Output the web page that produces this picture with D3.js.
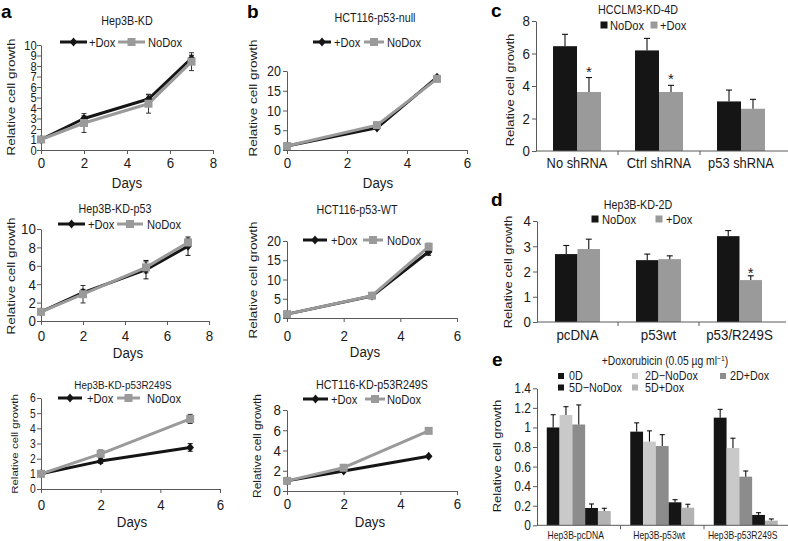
<!DOCTYPE html>
<html><head><meta charset="utf-8">
<script src="https://cdn.jsdelivr.net/npm/d3@7"></script>
<style>
body{margin:0;background:#fff;}
svg{display:block;font-family:"Liberation Sans",Arial,Helvetica,sans-serif;}
</style></head><body>
<script>
// ===================== DATA =====================
// Panel a : Hep3B lines
const aTopDays = [0, 2, 5, 7];
const aTopDox = [1.0, 3.0, 4.86, 8.72];
const aTopDoxErr = [0.1, 0.25, 0.4, 0.3];
const aTopNoDox = [1.0, 2.57, 4.41, 8.41];
const aTopNoDoxErr = [0.1, 0.9, 0.9, 0.85];
const aTopYTicks = [0, 1, 2, 3, 4, 5, 6, 7, 8, 9, 10];
const aTopXTicks = [0, 2, 4, 6, 8];

const aMidDays = [0, 2, 5, 7];
const aMidDox = [1.0, 3.09, 5.58, 8.13];
const aMidDoxErr = [0.1, 0.35, 1.0, 1.0];
const aMidNoDox = [1.0, 2.91, 5.83, 8.53];
const aMidNoDoxErr = [0.1, 0.95, 0.6, 0.4];
const aMidYTicks = [0, 2, 4, 6, 8, 10];
const aMidXTicks = [0, 2, 4, 6, 8];

const aBotDays = [0, 2, 5];
const aBotDox = [1.0, 1.84, 2.74];
const aBotDoxErr = [0.05, 0.15, 0.25];
const aBotNoDox = [1.0, 2.32, 4.62];
const aBotNoDoxErr = [0.05, 0.25, 0.3];
const aBotYTicks = [0, 1, 2, 3, 4, 5, 6];
const aBotXTicks = [0, 2, 4, 6];

// Panel b : HCT116 lines
const bTopDays = [0, 3, 5];
const bTopDox = [1.0, 5.6, 18.4];
const bTopDoxErr = [0.1, 0.3, 0.5];
const bTopNoDox = [1.0, 6.3, 18.0];
const bTopNoDoxErr = [0.1, 0.3, 0.5];
const bTopYTicks = [0, 5, 10, 15, 20];
const bTopXTicks = [0, 2, 4, 6];

const bMidDays = [0, 3, 5];
const bMidDox = [1.0, 5.7, 17.2];
const bMidDoxErr = [0.1, 0.2, 0.9];
const bMidNoDox = [1.0, 5.8, 18.5];
const bMidNoDoxErr = [0.1, 0.2, 0.9];
const bMidYTicks = [0, 5, 10, 15, 20];
const bMidXTicks = [0, 2, 4, 6];

const bBotDays = [0, 2, 5];
const bBotDox = [1.0, 1.98, 3.43];
const bBotDoxErr = [0.05, 0.1, 0.1];
const bBotNoDox = [1.0, 2.3, 5.94];
const bBotNoDoxErr = [0.05, 0.1, 0.1];
const bBotYTicks = [0, 2, 4, 6, 8];
const bBotXTicks = [0, 2, 4, 6];

// Panel c : HCCLM3-KD-4D bars
const cCats = ["No shRNA", "Ctrl shRNA", "p53 shRNA"];
const cNoDox = [6.45, 6.19, 3.05];
const cNoDoxErr = [0.73, 0.74, 0.70];
const cDox = [3.63, 3.63, 2.60];
const cDoxErr = [0.89, 0.41, 0.58];
const cSig = [true, true, false];
const cYTicks = [0, 2, 4, 6, 8];

// Panel d : Hep3B-KD-2D bars
const dCats = ["pcDNA", "p53wt", "p53/R249S"];
const dNoDox = [2.69, 2.45, 3.40];
const dNoDoxErr = [0.34, 0.24, 0.22];
const dDox = [2.89, 2.49, 1.66];
const dDoxErr = [0.39, 0.13, 0.17];
const dSig = [false, false, true];
const dYTicks = [0, 1, 2, 3, 4];

// Panel e : Doxorubicin bars
const eCats = ["Hep3B-pcDNA", "Hep3B-p53wt", "Hep3B-p53R249S"];
const eSeriesNames = ["0D", "2D\u2212NoDox", "2D+Dox", "5D\u2212NoDox", "5D+Dox"];
const e0D = [1.0, 0.957, 1.10];
const e0DErr = [0.13, 0.09, 0.085];
const e2DNoDox = [1.127, 0.855, 0.79];
const e2DNoDoxErr = [0.085, 0.11, 0.10];
const e2DDox = [1.03, 0.81, 0.497];
const e2DDoxErr = [0.20, 0.116, 0.058];
const e5DNoDox = [0.177, 0.235, 0.106];
const e5DNoDoxErr = [0.041, 0.027, 0.023];
const e5DDox = [0.146, 0.18, 0.048];
const e5DDoxErr = [0.028, 0.035, 0.017];
const eYTicks = [0, 0.2, 0.4, 0.6, 0.8, 1.0, 1.2, 1.4];

// ===================== STYLE =====================
const SX = 0.86;
const TXT = "#1a1a1a", AX = "#5a5a5a", BLK = "#151515", GRY = "#9a9a9a";
const FONT = '"Liberation Sans", Arial, Helvetica, sans-serif';
const fmt = d => String(+(+d).toFixed(1));

const svg = d3.select("body").append("svg").attr("width", 788).attr("height", 541);
svg.append("rect").attr("width", 788).attr("height", 541).attr("fill", "#fff");

function txt(g, x, y, s, o = {}) {
  const t = g.append("text")
    .attr("transform", `translate(${x},${y}) scale(${o.sx ?? SX},1)`)
    .attr("font-size", o.size || 13)
    .attr("text-anchor", o.anchor || "start")
    .attr("dy", o.dy ?? "0.35em")
    .attr("fill", o.fill || TXT)
    .text(s);
  if (o.weight) t.attr("font-weight", o.weight);
  return t;
}
function vtxt(g, x, y, s, size) {
  return g.append("text")
    .attr("transform", `translate(${x},${y}) rotate(-90) scale(1,${SX})`)
    .attr("font-size", size).attr("text-anchor", "middle").attr("dy", "0.35em")
    .attr("fill", TXT).text(s);
}
function styleAxis(sel, size) {
  sel.attr("font-family", FONT).attr("font-size", size);
  sel.selectAll(".domain, .tick line").attr("stroke", AX).attr("stroke-width", 1);
  sel.selectAll(".tick text").attr("fill", TXT).attr("transform", `scale(${SX},1)`);
}
const diamondPath = "M0,-4.5L3.8,0L0,4.5L-3.8,0Z";
function marker(g, shape, cx, cy, color) {
  if (shape === "diamond") {
    g.append("path").attr("d", diamondPath).attr("transform", `translate(${cx},${cy})`).attr("fill", color);
  } else {
    g.append("rect").attr("x", cx - 4).attr("y", cy - 4).attr("width", 8).attr("height", 8).attr("fill", color);
  }
}

// ===================== LINE PANELS =====================
function linePanel(c) {
  const g = svg.append("g");
  const x = d3.scaleLinear().domain([0, c.xMax]).range([c.x0, c.x1]);
  const y = d3.scaleLinear().domain([0, c.yMax]).range([c.yB, c.yT]);
  const ya = g.append("g").attr("transform", `translate(${c.x0},0)`)
    .call(d3.axisLeft(y).tickValues(c.yTicks).tickFormat(fmt).tickSize(4).tickSizeOuter(0).tickPadding(c.yPad));
  styleAxis(ya, c.yFont);
  const xa = g.append("g").attr("transform", `translate(0,${c.yB})`)
    .call(d3.axisBottom(x).tickValues(c.xTicks).tickFormat(fmt).tickSize(4).tickSizeOuter(0).tickPadding(c.xPad));
  styleAxis(xa, c.xFont);

  const series = [
    { vals: c.dox, err: c.doxErr, color: BLK, ecol: "#111", shape: "diamond" },
    { vals: c.noDox, err: c.noDoxErr, color: GRY, ecol: "#333", shape: "square" }
  ];
  const line = d3.line().x(d => x(d[0])).y(d => y(d[1]));
  series.forEach(s => {
    g.append("path").datum(c.days.map((d, i) => [d, s.vals[i]]))
      .attr("d", line).attr("fill", "none").attr("stroke", s.color)
      .attr("stroke-width", 3).attr("stroke-linejoin", "round");
  });
  series.forEach(s => {
    c.days.forEach((d, i) => {
      const e = s.err[i]; if (!e) return;
      const px = x(d), lo = y(s.vals[i] - e), hi = y(s.vals[i] + e);
      const eg = g.append("g").attr("stroke", s.ecol).attr("stroke-width", 1);
      eg.append("line").attr("x1", px).attr("x2", px).attr("y1", lo).attr("y2", hi);
      eg.append("line").attr("x1", px - 2.5).attr("x2", px + 2.5).attr("y1", lo).attr("y2", lo);
      eg.append("line").attr("x1", px - 2.5).attr("x2", px + 2.5).attr("y1", hi).attr("y2", hi);
    });
  });
  series.forEach(s => {
    c.days.forEach((d, i) => marker(g, s.shape, x(d), y(s.vals[i]), s.color));
  });

  txt(g, c.titleX, c.titleY, c.title, { size: c.titleSize || 12.5, anchor: "middle" });
  const L = c.leg;
  g.append("line").attr("x1", L.bx0).attr("x2", L.bx1).attr("y1", L.y).attr("y2", L.y).attr("stroke", BLK).attr("stroke-width", 3);
  marker(g, "diamond", (L.bx0 + L.bx1) / 2, L.y, BLK);
  txt(g, L.btx, L.y, "+Dox", { size: 13 });
  g.append("line").attr("x1", L.gx0).attr("x2", L.gx1).attr("y1", L.y).attr("y2", L.y).attr("stroke", GRY).attr("stroke-width", 3);
  marker(g, "square", (L.gx0 + L.gx1) / 2, L.y, GRY);
  txt(g, L.gtx, L.y, "NoDox", { size: 13 });
  txt(g, c.daysX, c.daysY, "Days", { size: 15.5, anchor: "middle" });
  vtxt(g, c.ytX, c.ytY, "Relative cell growth", c.ytSize);
}

linePanel({
  x0: 41, x1: 213, yB: 150, yT: 45, xMax: 8, yMax: 10,
  yTicks: aTopYTicks, xTicks: aTopXTicks, yFont: 13, xFont: 15.5, yPad: 1, xPad: 3.5,
  days: aTopDays, dox: aTopDox, doxErr: aTopDoxErr, noDox: aTopNoDox, noDoxErr: aTopNoDoxErr,
  title: "Hep3B-KD", titleX: 127, titleY: 21,
  leg: { y: 42, bx0: 60, bx1: 87, btx: 89, gx0: 118, gx1: 145, gtx: 148 },
  daysX: 127, daysY: 183, ytX: 11, ytY: 97, ytSize: 13.5
});
linePanel({
  x0: 41, x1: 209, yB: 321, yT: 229, xMax: 8, yMax: 10,
  yTicks: aMidYTicks, xTicks: aMidXTicks, yFont: 15.5, xFont: 15.5, yPad: 2, xPad: 5.5,
  days: aMidDays, dox: aMidDox, doxErr: aMidDoxErr, noDox: aMidNoDox, noDoxErr: aMidNoDoxErr,
  title: "Hep3B-KD-p53", titleX: 115, titleY: 209,
  leg: { y: 224, bx0: 58, bx1: 85, btx: 88, gx0: 117, gx1: 143, gtx: 147 },
  daysX: 128, daysY: 353, ytX: 11, ytY: 276, ytSize: 13.5
});
linePanel({
  x0: 41, x1: 220, yB: 489, yT: 398, xMax: 6, yMax: 6,
  yTicks: aBotYTicks, xTicks: aBotXTicks, yFont: 12, xFont: 15.5, yPad: 2, xPad: 6.5,
  days: aBotDays, dox: aBotDox, doxErr: aBotDoxErr, noDox: aBotNoDox, noDoxErr: aBotNoDoxErr,
  title: "Hep3B-KD-p53R249S", titleX: 123, titleY: 385, titleSize: 11.5,
  leg: { y: 398, bx0: 58, bx1: 82, btx: 87, gx0: 117, gx1: 140, gtx: 147 },
  daysX: 132, daysY: 522, ytX: 15, ytY: 444, ytSize: 11.5
});
linePanel({
  x0: 287, x1: 467, yB: 150, yT: 71, xMax: 6, yMax: 20,
  yTicks: bTopYTicks, xTicks: bTopXTicks, yFont: 14.5, xFont: 15.5, yPad: 3, xPad: 3.5,
  days: bTopDays, dox: bTopDox, doxErr: bTopDoxErr, noDox: bTopNoDox, noDoxErr: bTopNoDoxErr,
  title: "HCT116-p53-null", titleX: 375, titleY: 18,
  leg: { y: 42, bx0: 313, bx1: 331, btx: 334, gx0: 364, gx1: 384, gtx: 387 },
  daysX: 378, daysY: 183, ytX: 253, ytY: 98, ytSize: 13.5
});
linePanel({
  x0: 287, x1: 457, yB: 318, yT: 241, xMax: 6, yMax: 20,
  yTicks: bMidYTicks, xTicks: bMidXTicks, yFont: 14.5, xFont: 15.5, yPad: 3, xPad: 7.5,
  days: bMidDays, dox: bMidDox, doxErr: bMidDoxErr, noDox: bMidNoDox, noDoxErr: bMidNoDoxErr,
  title: "HCT116-p53-WT", titleX: 357, titleY: 210,
  leg: { y: 240, bx0: 303, bx1: 327, btx: 331, gx0: 363, gx1: 383, gtx: 387 },
  daysX: 365, daysY: 352, ytX: 253, ytY: 280, ytSize: 13.5
});
linePanel({
  x0: 287, x1: 457, yB: 491, yT: 410, xMax: 6, yMax: 8,
  yTicks: bBotYTicks, xTicks: bBotXTicks, yFont: 15.5, xFont: 15.5, yPad: 3, xPad: 3.5,
  days: bBotDays, dox: bBotDox, doxErr: bBotDoxErr, noDox: bBotNoDox, noDoxErr: bBotNoDoxErr,
  title: "HCT116-KD-p53R249S", titleX: 372, titleY: 385,
  leg: { y: 399, bx0: 303, bx1: 328, btx: 331, gx0: 365, gx1: 385, gtx: 387 },
  daysX: 370, daysY: 522, ytX: 257, ytY: 446, ytSize: 12
});

// ===================== BAR PANELS =====================
function barPanel(c) {
  const g = svg.append("g");
  const x = d3.scaleBand().domain(c.cats).range([c.x0, c.x1]).paddingInner(c.pi).paddingOuter(c.pi / 2);
  const xs = d3.scaleBand().domain(d3.range(c.series.length)).range([0, x.bandwidth()]);
  const y = d3.scaleLinear().domain([0, c.yMax]).range([c.yB, c.yT]);
  const origin = x.range()[0];

  const ya = g.append("g").attr("transform", `translate(${origin},0)`)
    .call(d3.axisLeft(y).tickValues(c.yTicks).tickSize(4).tickSizeOuter(0).tickPadding(3).tickFormat(fmt));
  styleAxis(ya, c.yFont);

  c.series.forEach((s, si) => {
    const rows = c.cats.map((cat, i) => ({ cat, v: s.values[i], e: s.err[i] }));
    g.selectAll(null).data(rows).join("rect")
      .attr("x", d => x(d.cat) + xs(si)).attr("width", xs.bandwidth())
      .attr("y", d => y(d.v)).attr("height", d => y(0) - y(d.v))
      .attr("fill", s.color);
    const eg = g.append("g").attr("stroke", "#111").attr("stroke-width", 1.1);
    rows.forEach(d => {
      const cx = x(d.cat) + xs(si) + xs.bandwidth() / 2;
      eg.append("line").attr("x1", cx).attr("x2", cx).attr("y1", y(d.v)).attr("y2", y(d.v + d.e));
      eg.append("line").attr("x1", cx - c.cap).attr("x2", cx + c.cap).attr("y1", y(d.v + d.e)).attr("y2", y(d.v + d.e));
    });
  });
  if (c.sig) {
    const s = c.series[1];
    c.cats.forEach((cat, i) => {
      if (!c.sig[i]) return;
      const cx = x(cat) + xs(1) + xs.bandwidth() / 2;
      txt(g, cx, y(s.values[i] + s.err[i]) + c.starOff, "*", { size: 15, anchor: "middle", dy: 0, sx: 1 });
    });
  }
  g.append("line").attr("x1", origin).attr("x2", c.axisEnd).attr("y1", c.yB).attr("y2", c.yB)
    .attr("stroke", AX).attr("stroke-width", 1);
  c.cats.slice(1).forEach(cat => {
    const bx = x(cat) - x.step() * c.pi / 2;
    g.append("line").attr("x1", bx).attr("x2", bx).attr("y1", c.yB).attr("y2", c.yB + 4)
      .attr("stroke", AX).attr("stroke-width", 1);
  });
  c.cats.forEach(cat => txt(g, x(cat) + x.bandwidth() / 2 + (c.catShift || 0), c.catY, cat,
    { size: c.catFont, anchor: "middle" }));
  c.legend.forEach(L => {
    g.append("rect").attr("x", L.sx - c.sq / 2).attr("y", L.y - c.sq / 2)
      .attr("width", c.sq).attr("height", c.sq).attr("fill", L.color);
    txt(g, L.tx, L.y, L.label, { size: c.legFont });
  });
  vtxt(g, c.ytX, c.ytY, "Relative cell growth", c.ytSize);
  return g;
}

barPanel({
  cats: cCats, x0: 536, x1: 782, axisEnd: 788, pi: 0.415,
  yB: 151, yT: 21, yMax: 8, yTicks: cYTicks, yFont: 15.5,
  series: [
    { values: cNoDox, err: cNoDoxErr, color: BLK },
    { values: cDox, err: cDoxErr, color: GRY }
  ],
  cap: 3, sig: cSig, starOff: -1,
  catY: 163, catFont: 15,
  sq: 7, legFont: 13,
  legend: [
    { sx: 604, tx: 610, y: 25, color: BLK, label: "NoDox" },
    { sx: 654, tx: 660, y: 25, color: GRY, label: "+Dox" }
  ],
  ytX: 510, ytY: 90, ytSize: 13
});
txt(svg, 638, 10, "HCCLM3-KD-4D", { size: 12.5, anchor: "middle" });

barPanel({
  cats: dCats, x0: 537, x1: 780, axisEnd: 786, pi: 0.444,
  yB: 322, yT: 221, yMax: 4, yTicks: dYTicks, yFont: 15.5,
  series: [
    { values: dNoDox, err: dNoDoxErr, color: BLK },
    { values: dDox, err: dDoxErr, color: GRY }
  ],
  cap: 3, sig: dSig, starOff: 2,
  catY: 335, catFont: 15.5,
  sq: 7, legFont: 13,
  legend: [
    { sx: 595, tx: 602, y: 219, color: BLK, label: "NoDox" },
    { sx: 659, tx: 666, y: 219, color: GRY, label: "+Dox" }
  ],
  ytX: 508, ytY: 272, ytSize: 13
});
txt(svg, 638, 205, "Hep3B-KD-2D", { size: 12.5, anchor: "middle" });

const eColors = [BLK, "#c9c9c9", "#8c8c8c", BLK, "#b3b3b3"];
const eVals = [e0D, e2DNoDox, e2DDox, e5DNoDox, e5DDox];
const eErrs = [e0DErr, e2DNoDoxErr, e2DDoxErr, e5DNoDoxErr, e5DDoxErr];
barPanel({
  cats: eCats, x0: 537, x1: 787.5, axisEnd: 788, pi: 0.234,
  yB: 525.3, yT: 388.3, yMax: 1.4, yTicks: eYTicks, yFont: 14,
  series: eSeriesNames.map((n, i) => ({ values: eVals[i], err: eErrs[i], color: eColors[i] })),
  cap: 2.5, sig: null,
  catY: 535, catFont: 10, catShift: -3,
  sq: 6, legFont: 12.5,
  legend: [
    { sx: 561, tx: 569, y: 376, color: eColors[0], label: eSeriesNames[0] },
    { sx: 635, tx: 645, y: 376, color: eColors[1], label: eSeriesNames[1] },
    { sx: 723, tx: 730, y: 376, color: eColors[2], label: eSeriesNames[2] },
    { sx: 561, tx: 569, y: 387.5, color: eColors[3], label: eSeriesNames[3] },
    { sx: 635, tx: 645, y: 387.5, color: eColors[4], label: eSeriesNames[4] }
  ],
  ytX: 497, ytY: 456, ytSize: 13
});
{
  const t = svg.append("text").attr("transform", `translate(665,361) scale(${SX},1)`)
    .attr("font-size", 12).attr("text-anchor", "middle").attr("dy", "0.35em").attr("fill", TXT);
  t.append("tspan").text("+Doxorubicin (0.05 \u00b5g ml");
  t.append("tspan").attr("font-size", 8).attr("dy", -4).text("\u22121");
  t.append("tspan").attr("dy", 4).text(")");
}

[["a", 1, 18], ["b", 247, 18], ["c", 491, 17], ["d", 491, 206], ["e", 492, 366]].forEach(([l, lx, ly]) => {
  svg.append("text").attr("x", lx).attr("y", ly).attr("font-size", 19).attr("font-weight", "bold")
    .attr("fill", "#000").text(l);
});
</script>
</body></html>
